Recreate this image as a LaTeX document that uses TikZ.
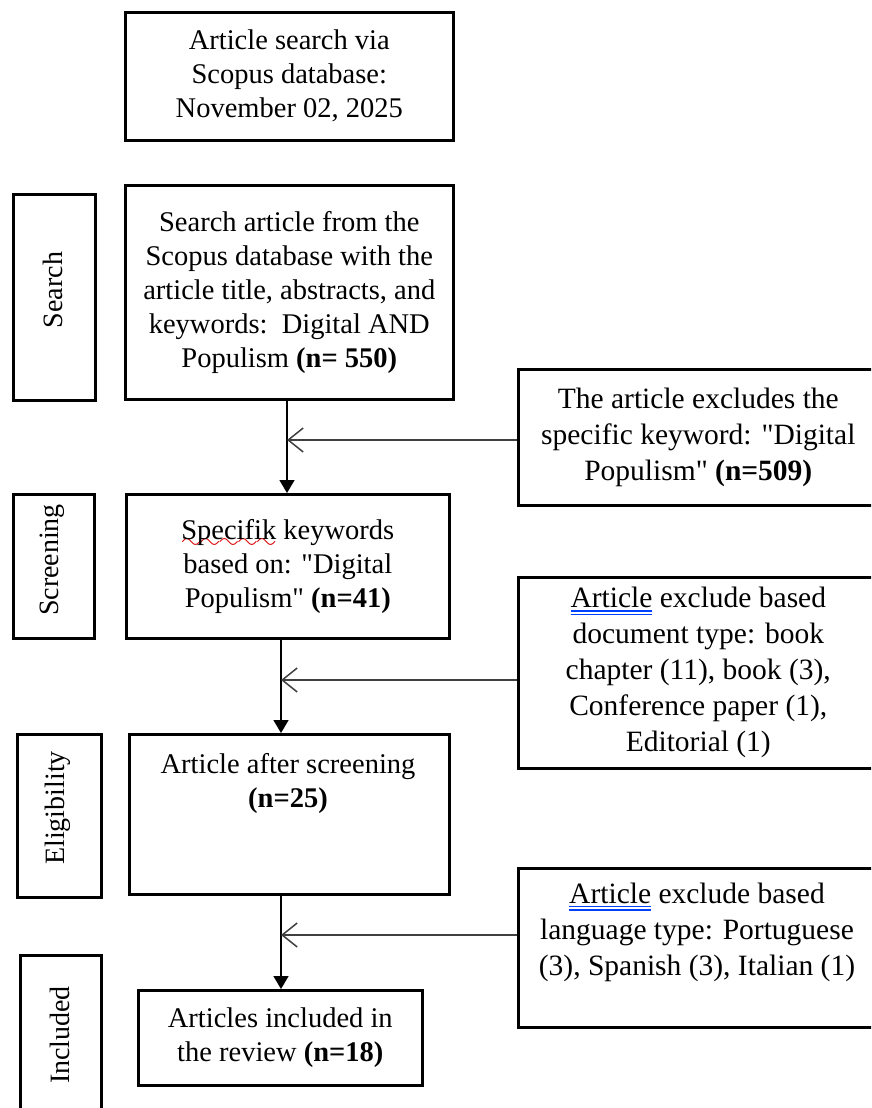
\documentclass[tikz,border=0pt]{standalone}
\usepackage{fontspec}
\setmainfont{Liberation Serif}[Ligatures=TeXOff]
\usetikzlibrary{arrows.meta}
\font\wavefont=lasy10 at 26pt
\newsavebox\wordbox
\newcommand\redwave[1]{\sbox\wordbox{#1}\rlap{\textcolor{red!85!black}{\lower9pt\hbox to \wd\wordbox{\xleaders\hbox{\wavefont\char58}\hfill}}}\usebox\wordbox}
\newcommand\blueuu[1]{\sbox\wordbox{#1}\rlap{\textcolor{blue!75!cyan}{\rule[-4pt]{\wd\wordbox}{1.6pt}}}\rlap{\textcolor{blue!75!cyan}{\rule[-7.5pt]{\wd\wordbox}{1.6pt}}}\usebox\wordbox}
\begin{document}
\begin{tikzpicture}[x=1pt,y=-1pt,
 box/.style={draw, line width=2.6pt, inner sep=0pt, anchor=north west},
 main/.style={font=\fontsize{28.5}{34}\selectfont, align=center},
 side/.style={font=\fontsize{29.5}{36}\selectfont, align=center},
 lab/.style={font=\fontsize{28}{34}\selectfont, rotate=90},
 arr/.style={line width=1.5pt, -{Triangle[length=13pt,width=15pt]}},
 exarr/.style={line width=1.5pt, black!75, -{Straight Barb[length=15pt,width=24pt]}}]
\useasboundingbox (0,0) rectangle (871,1108);
\clip (0,0) rectangle (871,1108);
% boxes
\node[box, minimum width=328, minimum height=128] (top) at (124,11) {};
\node[box, minimum width=328, minimum height=214] (search) at (124,184) {};
\node[box, minimum width=82, minimum height=206] (lsearch) at (12,193) {};
\node[box, minimum width=360, minimum height=136] (r1) at (517,368) {};
\node[box, minimum width=323, minimum height=144] (screen) at (125,493) {};
\node[box, minimum width=81, minimum height=144] (lscreen) at (12,493) {};
\node[box, minimum width=360, minimum height=191] (r2) at (517,576) {};
\node[box, minimum width=320, minimum height=160] (elig) at (128,733) {};
\node[box, minimum width=84, minimum height=163] (lelig) at (16,733) {};
\node[box, minimum width=360, minimum height=159] (r3) at (517,867) {};
\node[box, minimum width=284, minimum height=95] (incl) at (137,989) {};
\node[box, minimum width=81, minimum height=166] (lincl) at (19,954) {};
% texts
\node[main] (ttop) at (top.center) {Article search via\\Scopus database:\\November 02, 2025};
\node[main] (tsearch) at (search.center) {Search article from the\\Scopus database with the\\article title, abstracts, and\\keywords:\ \ Digital AND\\Populism \textbf{(n= 550)}};
\node[side] (tr1) at (r1.center) {The article excludes the\\specific keyword: "Digital\\Populism" \textbf{(n=509)}};
\node[main] (tscreen) at (screen.center) {\redwave{Specifik} keywords\\based on: "Digital\\Populism" \textbf{(n=41)}};
\node[side] (tr2) at (r2.center) {\blueuu{Article} exclude based\\document type: book\\chapter (11), book (3),\\Conference paper (1),\\Editorial (1)};
\node[main] (telig) at (288,783) {Article after screening\\\textbf{(n=25)}};
\node[side] (tr3) at (697,932) {\blueuu{Article} exclude based\\language type: Portuguese\\(3), Spanish (3), Italian (1)};
\node[main] (tincl) at (incl.center) {Articles included in\\the review \textbf{(n=18)}};
% stage labels
\node[lab] (xsearch) at (53,290) {Search};
\node[lab] (xscreen) at (52,560) {Screening};
\node[lab] (xelig) at (58,808) {Eligibility};
\node[lab] (xincl) at (60,1035) {Included};
% connectors
\coordinate (j1) at (287,440);
\draw[arr] (search.south -| j1) -- (screen.north -| j1);
\draw[exarr] (r1.west |- j1) -- (j1);
\coordinate (j2) at (281,680);
\draw[arr] (screen.south -| j2) -- (elig.north -| j2);
\draw[exarr] (r2.west |- j2) -- (j2);
\coordinate (j3) at (281,935);
\draw[arr] (elig.south -| j3) -- (incl.north -| j3);
\draw[exarr] (r3.west |- j3) -- (j3);
\end{tikzpicture}
\end{document}
